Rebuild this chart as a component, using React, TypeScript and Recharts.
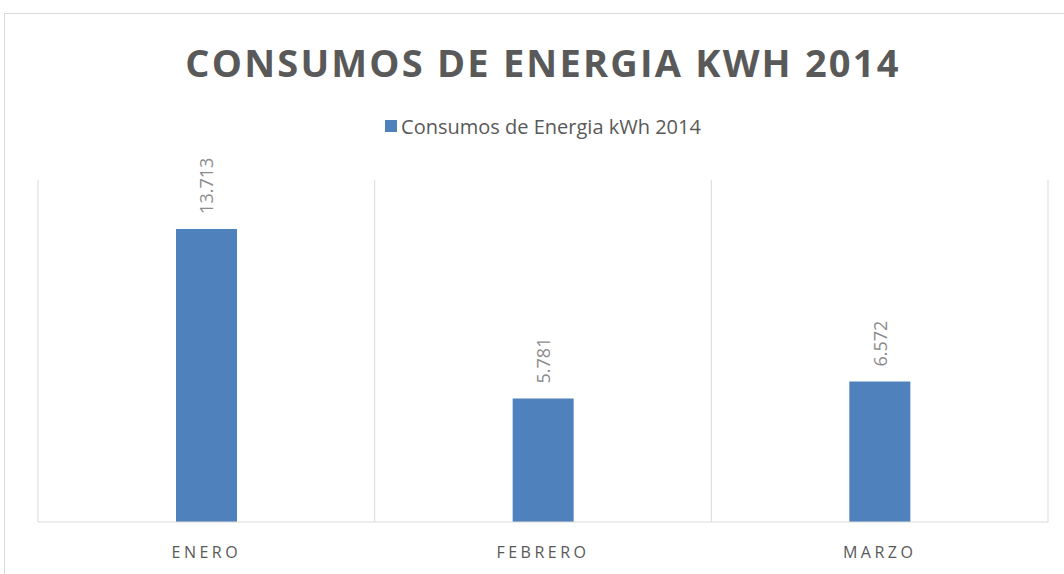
import React from 'react';
import { BarChart, Bar, XAxis, YAxis, CartesianGrid, Legend, LabelList } from 'recharts';

const months = ['ENERO', 'FEBRERO', 'MARZO'];
const consumo = [13713, 5781, 6572];
const seriesName = 'Consumos de Energia kWh 2014';
const title = 'CONSUMOS DE ENERGIA KWH 2014';

const data = months.map((m, i) => ({ month: m, kwh: consumo[i] }));

const fmt = (v: number) => v.toLocaleString('de-DE');

const BarLabel = (props: any) => {
  const { x, y, width, value } = props;
  const cx = x + width / 2;
  const cy = y - 15;
  return (
    <text
      x={cx}
      y={cy}
      transform={`rotate(-90 ${cx} ${cy})`}
      textAnchor="start"
      dominantBaseline="central"
      fill="#8c8c8c"
      fontSize={18}
      fontFamily="Open Sans"
    >
      {fmt(value)}
    </text>
  );
};

const MonthTick = (props: any) => {
  const { x, y, payload } = props;
  return (
    <text
      x={x}
      y={y + 28}
      textAnchor="middle"
      fill="#595959"
      fontSize={16}
      fontFamily="Open Sans"
      letterSpacing={3.5}
    >
      {payload.value}
    </text>
  );
};

const LegendBox = () => (
  <div
    style={{
      display: 'flex',
      justifyContent: 'center',
      alignItems: 'center',
      fontFamily: 'Open Sans',
      fontSize: 20,
      color: '#595959',
      height: 24,
    }}
  >
    <span style={{ width: 12, height: 12, background: '#4f81bd', marginRight: 4 }} />
    <span>{seriesName}</span>
  </div>
);

export default function App() {
  return (
    <div
      style={{
        position: 'absolute',
        left: 0,
        top: 0,
        width: 1064,
        height: 574,
        overflow: 'hidden',
        background: '#fff',
      }}
    >
      <div
        style={{
          position: 'absolute',
          left: 4,
          top: 13,
          width: 1080,
          height: 580,
          border: '1px solid #d9d9d9',
        }}
      />
      <div
        style={{
          position: 'absolute',
          left: 38,
          width: 1010,
          top: 36,
          textAlign: 'center',
          fontFamily: 'Open Sans',
          fontWeight: 700,
          fontSize: 38,
          letterSpacing: 2.2,
          color: '#595959',
        }}
      >
        {title}
      </div>
      <BarChart
        width={1064}
        height={574}
        data={data}
        margin={{ top: 156, left: 38, right: 16, bottom: 22 }}
        style={{ position: 'absolute', left: 0, top: 0 }}
      >
        <CartesianGrid
          horizontal={false}
          stroke="#d9d9d9"
          verticalCoordinatesGenerator={({ offset }: any) =>
            months.map((_, i) => offset.left + (i * offset.width) / months.length).concat(offset.left + offset.width)
          }
        />
        <XAxis
          dataKey="month"
          axisLine={{ stroke: '#d9d9d9' }}
          tickLine={false}
          height={30}
          tick={<MonthTick />}
        />
        <YAxis hide domain={[0, 16000]} />
        <Legend
          verticalAlign="top"
          content={<LegendBox />}
          wrapperStyle={{ top: 114, left: 38, width: 1010 }}
        />
        <Bar dataKey="kwh" name={seriesName} fill="#4f81bd" barSize={61} isAnimationActive={false}>
          <LabelList dataKey="kwh" content={<BarLabel />} />
        </Bar>
      </BarChart>
    </div>
  );
}
